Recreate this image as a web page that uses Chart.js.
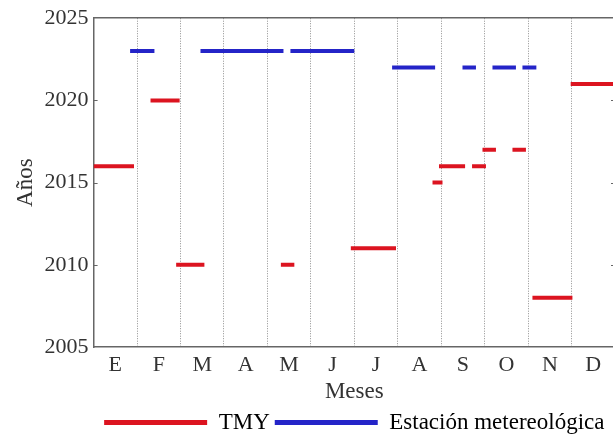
<!DOCTYPE html>
<html>
<head>
<meta charset="utf-8">
<script src="https://cdn.jsdelivr.net/npm/chart.js@4"></script>
<style>
  html, body { margin: 0; padding: 0; overflow: hidden; background: #fff; }
  #wrap { width: 620px; height: 435px; }
</style>
</head>
<body>
<div id="wrap"><canvas id="grafico" width="620" height="435"></canvas></div>
<script>
// Etiquetes dels mesos i anys de l'eix
const months = ['E', 'F', 'M', 'A', 'M', 'J', 'J', 'A', 'S', 'O', 'N', 'D'];
const yearTicks = [2005, 2010, 2015, 2020, 2025];

// TMY: trams (inici, final en mesos) i any seleccionat
const tmyStart = [0, 1.31, 1.90, 4.31, 5.92, 7.80, 7.95, 8.71, 8.95, 9.64, 10.10, 10.98];
const tmyEnd   = [0.93, 1.98, 2.55, 4.62, 6.96, 8.03, 8.55, 9.03, 9.26, 9.95, 11.02, 12];
const tmyYear  = [2016, 2020, 2010, 2010, 2011, 2015, 2016, 2016, 2017, 2017, 2008, 2021];

// Estació meteorològica
const estStart = [0.84, 2.46, 4.53, 6.87, 8.49, 9.18, 9.87];
const estEnd   = [1.40, 4.37, 6.00, 7.86, 8.80, 9.72, 10.19];
const estYear  = [2023, 2023, 2023, 2022, 2022, 2022, 2022];

const RED = '#dc1420';
const BLUE = '#2424c8';
const AXIS = '#666666';
const TEXT = '#333333';
const FONT = 'Liberation Serif';

// Construir punts amb buits entre trams
function toSegments(start, end, year) {
    const pts = [];
    start.forEach((s, i) => {
        pts.push({ x: s, y: year[i] });
        pts.push({ x: end[i], y: year[i] });
        pts.push({ x: end[i], y: null });
    });
    return pts;
}

// Petites marques cap a dins a l'eix Y (esquerra i dreta)
const innerTicks = {
    id: 'innerTicks',
    afterDraw(chart) {
        const { ctx, chartArea, scales } = chart;
        const y = scales.y;
        ctx.save();
        ctx.strokeStyle = AXIS;
        ctx.lineWidth = 1;
        y.ticks.forEach(t => {
            if (t.value === y.min || t.value === y.max) return;
            const py = Math.round(y.getPixelForValue(t.value)) + 0.5;
            ctx.beginPath();
            ctx.moveTo(chartArea.left, py);
            ctx.lineTo(chartArea.left + 4, py);
            ctx.moveTo(chartArea.right - 4, py);
            ctx.lineTo(chartArea.right, py);
            ctx.stroke();
        });
        ctx.restore();
    }
};

const lineBase = {
    borderWidth: 4,
    pointRadius: 0,
    pointHoverRadius: 0,
    borderCapStyle: 'butt',
    spanGaps: false,
    tension: 0
};

const ctx = document.getElementById('grafico').getContext('2d');
new Chart(ctx, {
    type: 'line',
    data: {
        datasets: [
            Object.assign({
                label: 'TMY',
                data: toSegments(tmyStart, tmyEnd, tmyYear),
                borderColor: RED,
                backgroundColor: RED
            }, lineBase),
            Object.assign({
                label: 'Estación metereológica',
                data: toSegments(estStart, estEnd, estYear),
                borderColor: BLUE,
                backgroundColor: BLUE
            }, lineBase)
        ]
    },
    plugins: [innerTicks],
    options: {
        responsive: false,
        animation: false,
        layout: { padding: { top: 15, left: 12, right: 4, bottom: -9 } },
        plugins: {
            tooltip: { enabled: false },
            legend: {
                position: 'bottom',
                fullSize: false,
                labels: {
                    boxWidth: 103,
                    boxHeight: 5,
                    padding: 5,
                    color: TEXT,
                    font: { family: FONT, size: 23 },
                    generateLabels: (chart) => chart.data.datasets.map((ds, i) => ({
                        text: ds.label,
                        fillStyle: ds.borderColor,
                        strokeStyle: ds.borderColor,
                        lineWidth: 0,
                        hidden: false,
                        datasetIndex: i
                    }))
                }
            }
        },
        scales: {
            x: {
                type: 'linear',
                position: 'bottom',
                min: 0,
                max: 12,
                title: {
                    display: true,
                    text: 'Meses',
                    color: TEXT,
                    font: { family: FONT, size: 23 },
                    padding: { top: -5, bottom: 0 }
                },
                ticks: {
                    stepSize: 0.5,
                    autoSkip: false,
                    maxRotation: 0,
                    padding: 5,
                    color: TEXT,
                    font: { family: FONT, size: 22 },
                    callback: (v) => (v % 1 === 0.5 ? months[Math.floor(v)] : '')
                },
                grid: {
                    drawTicks: false,
                    lineWidth: 1,
                    color: (c) => {
                        const v = c.tick ? c.tick.value : 0;
                        return (v % 1 === 0 && v > 0 && v < 12) ? '#8f8f8f' : 'rgba(0,0,0,0)';
                    }
                },
                border: { display: true, color: AXIS, width: 1.5, dash: [1, 1.5] }
            },
            x2: {
                type: 'linear',
                position: 'top',
                min: 0,
                max: 12,
                ticks: { display: false },
                grid: { display: false, drawTicks: false },
                border: { display: true, color: AXIS, width: 1.5 }
            },
            y: {
                type: 'linear',
                position: 'left',
                min: 2005,
                max: 2025,
                afterBuildTicks: (scale) => { scale.ticks = yearTicks.map(v => ({ value: v })); },
                title: {
                    display: true,
                    text: 'Años',
                    color: TEXT,
                    font: { family: FONT, size: 23 },
                    padding: { top: 0, bottom: 0 }
                },
                ticks: {
                    padding: 5,
                    color: TEXT,
                    font: { family: FONT, size: 22 },
                    callback: (v) => String(v)
                },
                grid: { display: false, drawTicks: false },
                border: { display: true, color: AXIS, width: 1.5 }
            },
            y2: {
                type: 'linear',
                position: 'right',
                min: 2005,
                max: 2025,
                ticks: { display: false },
                grid: { display: false, drawTicks: false },
                border: { display: true, color: AXIS, width: 1.5 }
            }
        }
    }
});
</script>
</body>
</html>
